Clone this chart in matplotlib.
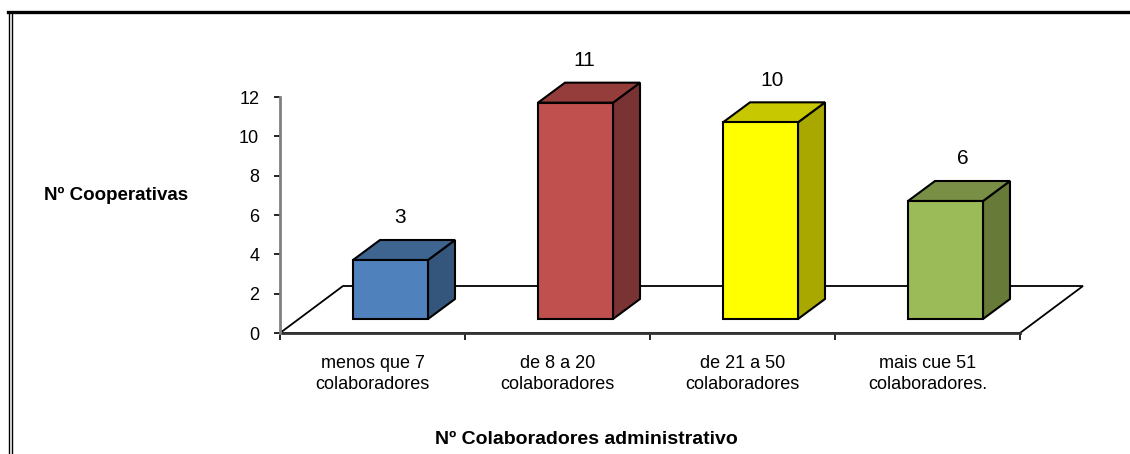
import numpy as np
import matplotlib
matplotlib.use("Agg")
import matplotlib.pyplot as plt
from matplotlib.patches import Polygon
from matplotlib.lines import Line2D

# ---------- data ----------
categories = ["menos que 7\ncolaboradores", "de 8 a 20\ncolaboradores",
              "de 21 a 50\ncolaboradores", "mais cue 51\ncolaboradores."]
values = [3, 11, 10, 6]
y_ticks = [0, 2, 4, 6, 8, 10, 12]

# ---------- style ----------
plt.rcParams.update({"font.family": ["Liberation Sans", "DejaVu Sans"],
                     "font.size": 12})
C_FRONT = ["#4f81bd", "#c0504d", "#ffff00", "#9bbb59"]
C_SIDE = ["#34557c", "#7a3333", "#a8a800", "#677a38"]
C_TOP = ["#3e6490", "#953d3b", "#c8c800", "#7a8f46"]

W, H = 1130, 454
fig = plt.figure(figsize=(W / 100, H / 100), dpi=100)
ax = fig.add_axes([280 / W, 121 / H, 740 / W, 236 / H])
ax.set_xlim(-0.5, len(values) - 0.5)
ax.set_ylim(0, 12)

# pixel -> data scale (fixed layout)
PX_X = 740 / len(values)      # px per category
PX_Y = 236 / 12               # px per unit
sx = lambda p: p / PX_X
sy = lambda p: p / PX_Y

# floor of the 3D plot
fdx, fdy = sx(63), sy(47)
x0, x1 = -0.5, len(values) - 0.5
floor = Polygon([(x0, 0), (x1, 0), (x1 + fdx, fdy), (x0 + fdx, fdy)],
                closed=True, fc="white", ec="black", lw=1.3,
                clip_on=False, zorder=1)
ax.add_patch(floor)

# 3D bars
bw = sx(75)
ox, oy = sx(18), sy(14)       # front face offset into the floor
ddx, ddy = sx(27), sy(20)     # bar depth
lab_dx = [10, 9, 12, 17]      # label nudges (px) as in the original
for i, v in enumerate(values):
    xl = i - bw / 2 + ox
    xr = xl + bw
    b, t = oy, oy + v
    ax.add_patch(Polygon([(xl, b), (xr, b), (xr, t), (xl, t)], closed=True,
                         fc=C_FRONT[i], ec="black", lw=1.5, clip_on=False,
                         zorder=4))
    ax.add_patch(Polygon([(xr, b), (xr + ddx, b + ddy), (xr + ddx, t + ddy),
                          (xr, t)], closed=True, fc=C_SIDE[i], ec="black",
                         lw=1.5, clip_on=False, zorder=3))
    ax.add_patch(Polygon([(xl, t), (xr, t), (xr + ddx, t + ddy),
                          (xl + ddx, t + ddy)], closed=True, fc=C_TOP[i],
                         ec="black", lw=1.5, clip_on=False, zorder=3))
    ax.text(i + ox + sx(lab_dx[i]), v + 2.85, f"{v}", ha="center",
            va="center", fontsize=15, zorder=5)

# axes styling
for s in ("top", "right"):
    ax.spines[s].set_visible(False)
ax.spines["left"].set_color("#808080")
ax.spines["left"].set_linewidth(2)
ax.spines["bottom"].set_color("#333333")
ax.spines["bottom"].set_linewidth(2)
ax.spines["bottom"].set_zorder(2)
ax.set_facecolor("none")
ax.set_yticks(y_ticks)
ax.tick_params(axis="y", length=4, width=1.2, color="black", pad=11,
               labelsize=13)
ax.set_xticks(range(len(values)))
ax.set_xticklabels(categories, linespacing=1.28, fontsize=13)
ax.tick_params(axis="x", length=0, pad=16)
ax.set_xticks(np.arange(-0.5, len(values)), minor=True)
ax.tick_params(axis="x", which="minor", length=5, width=1.2, color="black")

fig.text(116 / W, 1 - 195 / H, "Nº Cooperativas", ha="center", va="center",
         fontsize=13.5, fontweight="bold")
fig.text(586 / W, 1 - 440 / H, "Nº Colaboradores administrativo",
         ha="center", va="center", fontsize=14, fontweight="bold")

# outer frame (top and double left rule)
fig.add_artist(Line2D([8 / W, 1], [1 - 12 / H, 1 - 12 / H], color="black",
                      lw=2.4, transform=fig.transFigure))
for xp in (8.5, 11.5):
    fig.add_artist(Line2D([xp / W, xp / W], [0, 1 - 12 / H], color="black",
                          lw=1.0, transform=fig.transFigure))

fig.savefig("out.png", dpi=100, facecolor="white")
